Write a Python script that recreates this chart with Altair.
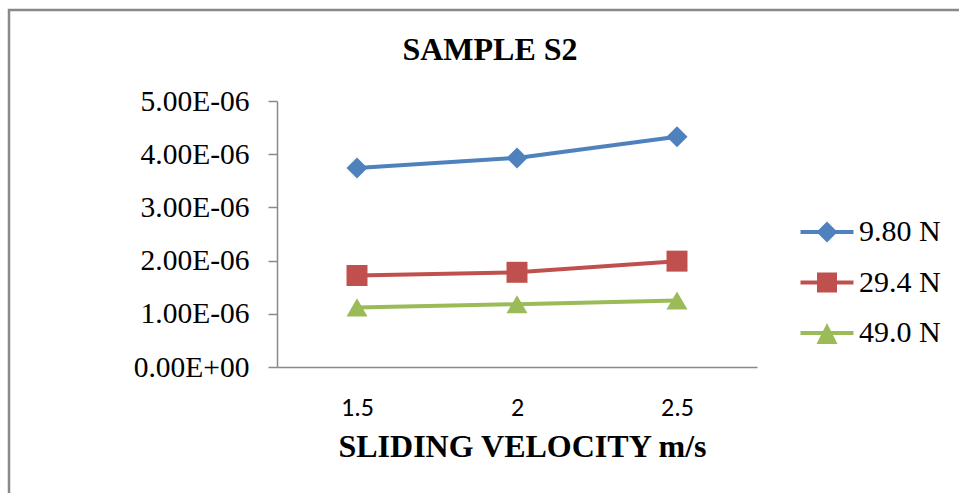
import altair as alt
import pandas as pd

# ---- data ----
velocity = ["1.5", "2", "2.5"]
series_names = ["9.80 N", "29.4 N", "49.0 N"]
load_980 = [3.74e-6, 3.93e-6, 4.33e-6]
load_294 = [1.72e-6, 1.78e-6, 1.99e-6]
load_490 = [1.12e-6, 1.18e-6, 1.25e-6]
y_ticks = [0, 1e-6, 2e-6, 3e-6, 4e-6, 5e-6]
y_tick_labels = ["0.00E+00", "1.00E-06", "2.00E-06", "3.00E-06", "4.00E-06", "5.00E-06"]

colors = ["#4F81BD", "#C0504D", "#9BBB59"]
shapes = ["diamond", "square", "triangle-up"]
legend_paths = [
    "M-2.65,-0.2H2.65V0.2H-2.65Z M0,-1.05L1.05,0L0,1.05L-1.05,0Z",
    "M-2.65,-0.2H2.65V0.2H-2.65Z M-1,-1H1V1H-1Z",
    "M-2.65,-0.2H2.65V0.2H-2.65Z M0,-1.0L1.05,1.1H-1.05Z",
]

rows = []
for name, vals in zip(series_names, [load_980, load_294, load_490]):
    for v, y in zip(velocity, vals):
        rows.append({"series": name, "velocity": v, "value": y})
df = pd.DataFrame(rows)

label_array = "[" + ",".join("'%s'" % s for s in y_tick_labels) + "]"

x_enc = alt.X(
    "velocity:N",
    sort=velocity,
    scale=alt.Scale(type="point", padding=0.5),
    axis=alt.Axis(
        title="SLIDING VELOCITY m/s",
        titleFont="Liberation Serif",
        titleFontSize=32,
        titleFontWeight="bold",
        titleColor="black",
        titleBaseline="alphabetic",
        titleY=89,
        titleX=245,
        labelFont="Carlito, Lato, sans-serif",
        labelFontSize=26,
        labelColor="black",
        labelPadding=27,
        labelAngle=0,
        ticks=False,
        tickSize=0,
        domainColor="#898989",
        domainWidth=1.5,
        grid=False,
    ),
)
y_enc = alt.Y(
    "value:Q",
    scale=alt.Scale(domain=[0, 5e-6], nice=False, zero=True),
    axis=alt.Axis(
        title=None,
        values=y_ticks,
        labelExpr=label_array + "[round(datum.value*1e6)]",
        labelFont="Liberation Serif",
        labelFontSize=29.5,
        labelColor="black",
        labelPadding=19,
        tickSize=9,
        tickColor="#898989",
        tickWidth=1.5,
        domainColor="#898989",
        domainWidth=1.5,
        grid=False,
    ),
)

frame = alt.Chart(alt.Data(values=[{"k": 1}])).mark_rect(
    fillOpacity=0, stroke="#898989", strokeWidth=2.5
).encode(
    x=alt.value(-268), x2=alt.value(720), y=alt.value(-91), y2=alt.value(420)
)

lines = alt.Chart(df).mark_line(strokeWidth=4).encode(
    x=x_enc,
    y=y_enc,
    color=alt.Color("series:N", scale=alt.Scale(domain=series_names, range=colors), legend=None),
    detail="series:N",
)

points = alt.Chart(df).mark_point(filled=True, opacity=1, size=440).encode(
    x=x_enc,
    y=y_enc,
    color=alt.Color("series:N", scale=alt.Scale(domain=series_names, range=colors), legend=None),
    shape=alt.Shape("series:N", scale=alt.Scale(domain=series_names, range=shapes), legend=None),
)

legend_props = dict(
    title=None,
    orient="none",
    legendX=535,
    legendY=116,
    padding=0,
    labelFont="Liberation Serif",
    labelFontSize=30,
    labelColor="black",
    labelOffset=17,
    rowPadding=20.5,
    symbolSize=400,
    symbolStrokeWidth=0,
)

legend_layer = alt.Chart(df).transform_filter("false").mark_point(
    filled=True, opacity=1, size=400
).encode(
    x=x_enc,
    y=y_enc,
    shape=alt.Shape(
        "series:N",
        scale=alt.Scale(domain=series_names, range=legend_paths),
        legend=alt.Legend(**legend_props),
    ),
    color=alt.Color(
        "series:N",
        scale=alt.Scale(domain=series_names, range=colors),
        legend=alt.Legend(**legend_props),
    ),
)

chart = alt.layer(frame, lines, points, legend_layer).resolve_scale(
    shape="independent", color="independent"
).properties(
    width=480,
    height=266,
    background="white",
    title=alt.TitleParams(
        "SAMPLE S2",
        font="Liberation Serif",
        fontSize=32,
        fontWeight="bold",
        color="black",
        anchor="middle",
        frame="group",
        dx=-27,
        dy=83,
        baseline="alphabetic",
        offset=0,
    ),
    autosize=alt.AutoSizeParams(type="none"),
    padding={"left": 277, "top": 101, "right": 202, "bottom": 126},
).configure_view(stroke=None)

chart.save("out.html", embed_options={"renderer": "svg", "actions": False})
